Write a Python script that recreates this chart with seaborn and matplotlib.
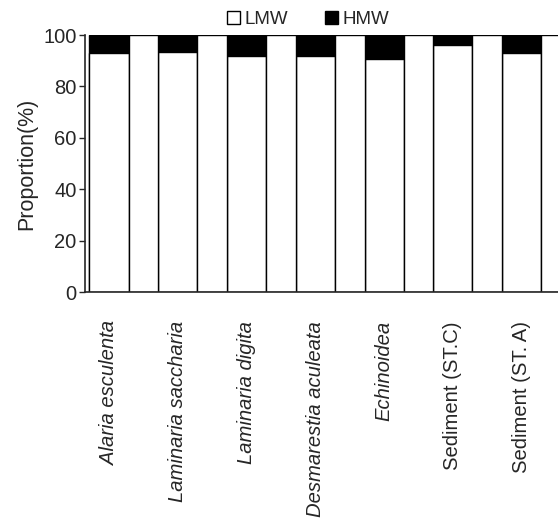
import numpy as np
import matplotlib
matplotlib.use("Agg")
import matplotlib.pyplot as plt
from matplotlib.patches import Patch
import seaborn as sns

# samples (labelled bars) and the LMW / HMW proportions (%)
samples = ["Alaria esculenta", "Laminaria saccharia", "Laminaria digita",
           "Desmarestia aculeata", "Echinoidea", "Sediment (ST.C)", "Sediment (ST. A)"]
italic = [True, True, True, True, True, False, False]
lmw = [93.0, 93.4, 91.8, 91.8, 90.7, 96.1, 93.0]
hmw = [7.0, 6.6, 8.2, 8.2, 9.3, 3.9, 7.0]
# empty (all white) bars between the samples
spacer = [100, 100, 100, 100, 100, 100, 100]

sns.set_style("ticks")
plt.rcParams["font.family"] = ["Liberation Sans", "DejaVu Sans"]

fig = plt.figure(figsize=(5.58, 5.24), dpi=100)
ax = fig.add_axes([0.1523, 0.4427, 0.875, 0.4905])

pos = np.arange(len(samples))
total = [a + b for a, b in zip(lmw, hmw)]

# HMW on top (full height black) then LMW white over it
sns.barplot(x=pos, y=total, native_scale=True, width=0.57, color="black",
            edgecolor="black", linewidth=1.0, saturation=1, errorbar=None, ax=ax)
sns.barplot(x=pos, y=lmw, native_scale=True, width=0.57, color="white",
            edgecolor="black", linewidth=1.0, saturation=1, errorbar=None, ax=ax)
sns.barplot(x=pos + 0.5, y=spacer, native_scale=True, width=0.43, color="white",
            edgecolor="black", linewidth=1.0, saturation=1, errorbar=None, ax=ax)

ax.set_xlim(-0.35, 6.75)
ax.set_ylim(0, 100)
ax.set_yticks([0, 20, 40, 60, 80, 100])
ax.set_xticks(pos)
ax.set_xticklabels(samples, rotation=90, fontsize=14.6)
for lab, it in zip(ax.get_xticklabels(), italic):
    if it:
        lab.set_style("italic")
ax.tick_params(axis="x", length=0, pad=21)
ax.tick_params(axis="y", labelsize=14.5, length=4, width=1.0, direction="out", pad=2)
ax.set_ylabel("Proportion(%)", fontsize=15.5, labelpad=4)
ax.set_xlabel("")

sns.despine(ax=ax)
ax.spines["left"].set_linewidth(1.2)
ax.spines["bottom"].set_linewidth(1.2)

handles = [Patch(facecolor="white", edgecolor="black", linewidth=1.0),
           Patch(facecolor="black", edgecolor="black", linewidth=1.0)]
fig.legend(handles, ["LMW", "HMW"], loc="center", bbox_to_anchor=(0.552, 0.962),
           ncol=2, frameon=False, fontsize=13.5, handlelength=0.7, handleheight=0.7,
           handletextpad=0.2, columnspacing=2.0)

fig.savefig("out.png", dpi=100)
